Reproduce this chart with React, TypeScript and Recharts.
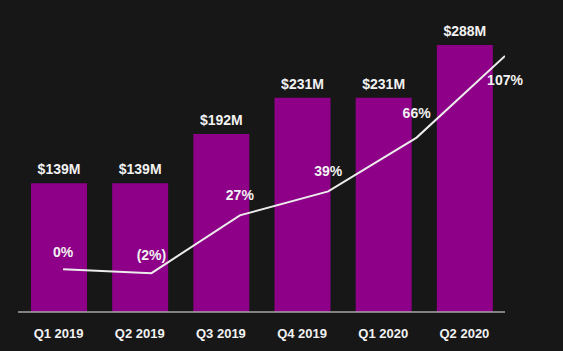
import React from "react";
import { ComposedChart, Bar, Line, XAxis, YAxis, LabelList } from "recharts";

const quarters = ["Q1 2019", "Q2 2019", "Q3 2019", "Q4 2019", "Q1 2020", "Q2 2020"];
const revenue = [139, 139, 192, 231, 231, 288];
const growth = [0, -2, 27, 39, 66, 107];

const data = quarters.map((q, i) => ({
  quarter: q,
  pos: i,
  revenue: revenue[i],
  growth: growth[i],
}));

const FONT = "'Liberation Sans', Arial, sans-serif";
const TEXT = "#f2f2f2";

const fmtRevenue = (v: number) => `$${v}M`;
const fmtGrowth = (v: number) => (v < 0 ? `(${Math.abs(v)}%)` : `${v}%`);

// vertical placement of each growth label relative to its line point
const growthLabelDy = [-12, -13, -15, -15, -20, 29];

const GrowthLabel = (props: any) => {
  const { x, y, value, index } = props;
  const dy = growthLabelDy[index] ?? -14;
  return (
    <text
      x={x}
      y={y + dy}
      textAnchor="middle"
      fill={TEXT}
      fontFamily={FONT}
      fontWeight="bold"
      fontSize={14}
    >
      {fmtGrowth(value)}
    </text>
  );
};

export default function App() {
  return (
    <div
      style={{
        position: "fixed",
        top: 0,
        left: 0,
        width: 563,
        height: 351,
        background: "#171717",
      }}
    >
      <ComposedChart
        width={563}
        height={351}
        data={data}
        margin={{ top: 20, right: 58, bottom: 9, left: 18 }}
      >
        <XAxis
          xAxisId="cat"
          dataKey="quarter"
          height={30}
          tickLine={false}
          axisLine={{ stroke: "#a6a6a6", strokeWidth: 1.5 }}
          tickMargin={11}
          tick={{ fill: TEXT, fontFamily: FONT, fontWeight: "bold", fontSize: 13 }}
          interval={0}
        />
        <XAxis
          xAxisId="pos"
          dataKey="pos"
          type="number"
          domain={[-0.51, 5]}
          allowDataOverflow
          hide
        />
        <YAxis yAxisId="rev" domain={[0, 315]} hide allowDataOverflow />
        <YAxis yAxisId="pct" domain={[-21.5, 125]} hide allowDataOverflow />
        <Bar
          xAxisId="cat"
          yAxisId="rev"
          dataKey="revenue"
          fill="#8e0087"
          barSize={56}
          isAnimationActive={false}
        >
          <LabelList
            dataKey="revenue"
            position="top"
            offset={9}
            formatter={fmtRevenue}
            fill={TEXT}
            fontFamily={FONT}
            fontWeight="bold"
            fontSize={14}
          />
        </Bar>
        <Line
          xAxisId="pos"
          yAxisId="pct"
          dataKey="growth"
          stroke="#ececec"
          strokeWidth={2}
          dot={false}
          activeDot={false}
          isAnimationActive={false}
          label={<GrowthLabel />}
        />
      </ComposedChart>
    </div>
  );
}
